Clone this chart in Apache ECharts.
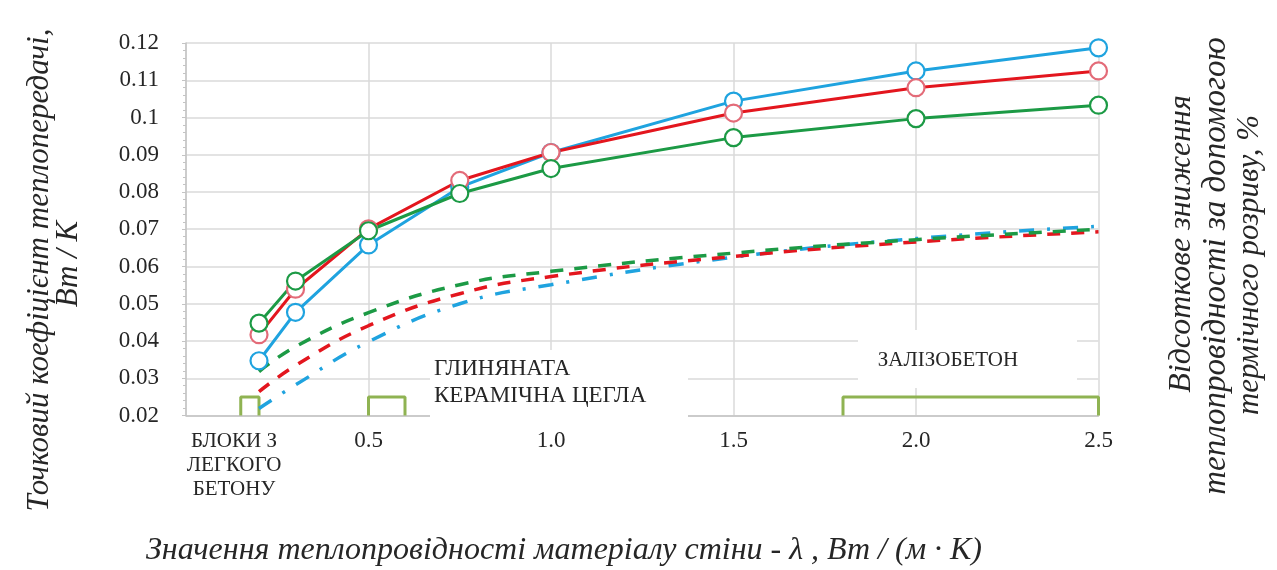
<!DOCTYPE html>
<html>
<head>
<meta charset="utf-8">
<script src="https://cdn.jsdelivr.net/npm/echarts@6/dist/echarts.min.js"></script>
<style>
html,body{margin:0;padding:0;background:#fff;}
#chart{width:1277px;height:570px;}
</style>
</head>
<body>
<div id="chart"></div>
<script>
// ---- data ----
const xValues = [0.2, 0.3, 0.5, 0.75, 1.0, 1.5, 2.0, 2.5];
const blueSolid  = [0.0347, 0.0477, 0.0658, 0.0813, 0.0906, 0.1044, 0.1125, 0.1187];
const redSolid   = [0.0417, 0.0539, 0.0701, 0.0831, 0.0906, 0.1012, 0.1080, 0.1125];
const greenSolid = [0.0448, 0.0561, 0.0696, 0.0796, 0.0863, 0.0946, 0.0997, 0.1033];
const blueTrend  = [0.0219, 0.0282, 0.0398, 0.0500, 0.0551, 0.0625, 0.0675, 0.0708];
const redTrend   = [0.0264, 0.0334, 0.0441, 0.0527, 0.0573, 0.0627, 0.0666, 0.0693];
const greenTrend = [0.0318, 0.0385, 0.0476, 0.0551, 0.0587, 0.0636, 0.0672, 0.0700];
// material ranges of conductivity (brackets)
const ranges = [[0.15, 0.2], [0.5, 0.6], [1.8, 2.5]];
const bracketBase = 0.02, bracketTop = 0.025;
const xTicks = [0, 0.5, 1.0, 1.5, 2.0, 2.5];
const yTicks = [0.02, 0.03, 0.04, 0.05, 0.06, 0.07, 0.08, 0.09, 0.1, 0.11, 0.12];
const labelBlocks = 'БЛОКИ З\nЛЕГКОГО\nБЕТОНУ';
const labelBrick = 'ГЛИНЯНАТА\nКЕРАМІЧНА ЦЕГЛА';
const labelConcrete = 'ЗАЛІЗОБЕТОН';
const titleLeft = ['Точковий коефіцієнт теплопередачі,', 'Вт / К'];
const titleRight = ['Відсоткове зниження', 'теплопровідності за допомогою', 'термічного розриву, %'];
const titleBottom = 'Значення теплопровідності матеріалу стіни - λ , Вт / (м · К)';

const BLUE = '#1fa3df', RED = '#e3161e', GREEN = '#1c9a45', OLIVE = '#8fb352';
const SERIF = '"Liberation Serif", "DejaVu Serif", serif';
const INK = '#262626';

function pairs(xs, ys) { return xs.map((x, i) => [x, ys[i]]); }

const chart = echarts.init(document.getElementById('chart'));

function solid(name, ys, color, border) {
  return {
    name, type: 'line', data: pairs(xValues, ys),
    symbol: 'circle', symbolSize: 17,
    lineStyle: {color, width: 3},
    itemStyle: {color: '#fff', borderColor: border, borderWidth: 2.2},
    z: 5
  };
}
function trend(name, ys, color, dash) {
  return {
    name, type: 'line', data: pairs(xValues, ys),
    smooth: 0.45, showSymbol: false, symbol: 'none',
    lineStyle: {color, width: 3.5, type: dash, cap: 'butt'},
    z: 4
  };
}
const bracketSeries = ranges.map((r, i) => ({
  name: 'range' + i, type: 'line', symbol: 'none', clip: false,
  data: [[r[0], bracketBase], [r[0], bracketTop], [r[1], bracketTop], [r[1], bracketBase]],
  lineStyle: {color: OLIVE, width: 3}, z: 3
}));

function rotText(text, x, y, size) {
  return {type: 'text', z: 51, x, y, rotation: Math.PI / 2, style: {
    text, font: 'italic ' + size + 'px ' + SERIF, fill: INK,
    textAlign: 'center', textVerticalAlign: 'middle'}};
}

const option = {
  backgroundColor: '#fff',
  animation: false,
  grid: {left: 186, right: 178.5, top: 43, bottom: 154.5},
  xAxis: {
    type: 'value', min: 0, max: 2.5, interval: 0.5,
    axisLine: {show: true, lineStyle: {color: '#c4c4c4', width: 1.5}},
    axisTick: {show: false},
    splitLine: {show: true, lineStyle: {color: '#dadada', width: 1.5}},
    axisLabel: {
      margin: 14, fontFamily: SERIF, fontSize: 23, color: INK,
      formatter: v => (v === 0 ? '' : v.toFixed(1))
    }
  },
  yAxis: {
    type: 'value', min: 0.02, max: 0.12, interval: 0.01,
    axisLine: {show: true, lineStyle: {color: '#c4c4c4', width: 1.5}},
    axisTick: {show: true, length: 4, lineStyle: {color: '#c4c4c4'}},
    minorTick: {show: true, splitNumber: 5, length: 3, lineStyle: {color: '#c4c4c4'}},
    splitLine: {show: true, lineStyle: {color: '#dadada', width: 1.5}},
    axisLabel: {
      margin: 27, fontFamily: SERIF, fontSize: 23, color: INK,
      formatter: v => String(parseFloat(v.toFixed(2)))
    }
  },
  series: [
    ...bracketSeries,
    trend('blueTrend', blueTrend, BLUE, [15, 13, 3, 13]),
    trend('redTrend', redTrend, RED, [13, 11]),
    trend('greenTrend', greenTrend, GREEN, [13, 11]),
    solid('blue', blueSolid, BLUE, BLUE),
    solid('red', redSolid, RED, '#e36b78'),
    solid('green', greenSolid, GREEN, GREEN)
  ],
  graphic: [
    // white boxes behind annotation text
    {type: 'rect', z: 50, shape: {x: 430, y: 350, width: 258, height: 69}, style: {fill: '#fff'}},
    {type: 'rect', z: 50, shape: {x: 858, y: 330, width: 219, height: 58}, style: {fill: '#fff'}},
    {type: 'text', z: 51, x: 434, y: 382, style: {
      text: labelBrick, font: '23px ' + SERIF, fill: INK,
      textAlign: 'left', textVerticalAlign: 'middle', lineHeight: 27}},
    {type: 'text', z: 51, x: 948, y: 360, style: {
      text: labelConcrete, font: '21px ' + SERIF, fill: INK,
      textAlign: 'center', textVerticalAlign: 'middle'}},
    {type: 'text', z: 51, x: 234, y: 465, style: {
      text: labelBlocks, font: '21px ' + SERIF, fill: INK,
      textAlign: 'center', textVerticalAlign: 'middle', lineHeight: 24}},
    // axis titles
    rotText(titleLeft[0], 40, 270, 31),
    rotText(titleLeft[1], 69, 264, 31),
    rotText(titleRight[0], 1182, 244, 32),
    rotText(titleRight[1], 1216, 266, 33),
    rotText(titleRight[2], 1250, 265, 31),
    {type: 'text', z: 51, x: 564, y: 551, style: {
      text: titleBottom, font: 'italic 32px ' + SERIF, fill: INK,
      textAlign: 'center', textVerticalAlign: 'middle'}}
  ]
};
chart.setOption(option);
</script>
</body>
</html>
